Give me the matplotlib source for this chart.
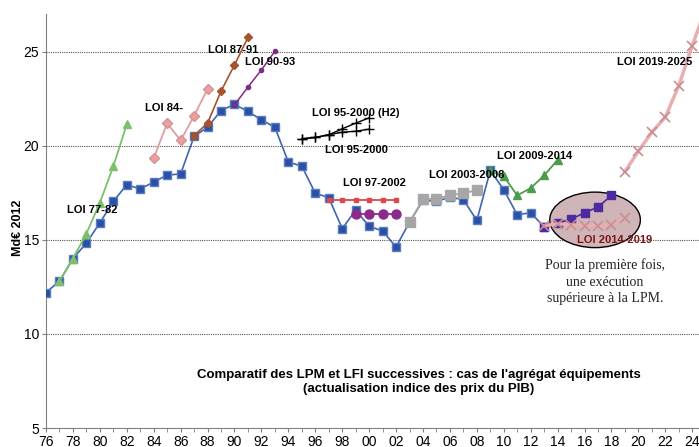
import matplotlib.pyplot as plt
from matplotlib.patches import Ellipse
from matplotlib.ticker import MultipleLocator, FuncFormatter

plt.rcParams['font.family'] = ['Liberation Sans', 'DejaVu Sans']

# actual execution (blue)
years_real = list(range(76, 114))
real = [12.2, 12.8, 14.0, 14.83, 15.9, 17.04, 17.93, 17.7, 18.07, 18.44,
        18.5, 20.5, 20.98, 21.87, 22.2, 21.82, 21.38, 20.98, 19.13, 18.92,
        17.48, 17.24, 15.6, 16.57, 15.72, 15.47, 14.62, 15.94, 17.1, 17.04,
        17.27, 17.13, 16.03, 18.69, 17.66, 16.33, 16.44, 15.68]

# successive laws
y_7782 = [77, 78, 79, 80, 81, 82]
v_7782 = [12.8, 14.0, 15.33, 16.97, 18.9, 21.15]
y_84 = [84, 85, 86, 87, 88]
v_84 = [19.34, 21.2, 20.28, 21.59, 23.02]
y_8791 = [87, 88, 89, 90, 91]
v_8791 = [20.54, 21.2, 22.9, 24.29, 25.76]
y_9093 = [90, 91, 92, 93]
v_9093 = [22.17, 23.12, 24.03, 25.02]
y_95 = [95, 96, 97, 98, 99, 100]
v_95h2 = [20.37, 20.44, 20.58, 20.9, 21.2, 21.48]
v_95 = [20.37, 20.44, 20.58, 20.72, 20.77, 20.88]
y_9702 = [97, 98, 99, 100, 101, 102]
v_9702 = [17.13, 17.13, 17.13, 17.13, 17.13, 17.13]
y_9902 = [99, 100, 101, 102]
v_9902 = [16.39, 16.39, 16.39, 16.39]
y_0308 = [103, 104, 105, 106, 107, 108]
v_0308 = [15.94, 17.15, 17.19, 17.36, 17.48, 17.63]
y_0914 = [109, 110, 111, 112, 113, 114]
v_0914 = [18.69, 18.37, 17.36, 17.75, 18.42, 19.25]
y_exec14 = [113, 114, 115, 116, 117, 118]
v_exec14 = [15.68, 15.89, 16.09, 16.44, 16.74, 17.36]
y_1419 = [113, 114, 115, 116, 117, 118, 119]
v_1419 = [15.75, 15.85, 15.8, 15.76, 15.76, 15.8, 16.18]
y_1925 = [119, 120, 121, 122, 123, 124, 125]
v_1925 = [18.63, 19.71, 20.72, 21.52, 23.2, 25.32, 27.3]

fig = plt.figure(figsize=(6.99, 4.47), dpi=100)
ax = fig.add_axes([46/699, 19/447, 1 - 46/699, 414/447])

ax.plot(years_real, real, color='#3f64b0', lw=1.2, marker='s', ms=6,
        mfc='#2a50a6', mec='#5a7cc0', zorder=3)
ax.plot(y_7782, v_7782, color='#7cc06c', lw=1.3, marker='^', ms=6, zorder=4)
ax.plot(y_84, v_84, color='#dd9e9e', lw=1.3, marker='D', ms=5, mfc='#e8a0a0', mec='#d89090', zorder=4)
ax.plot(y_8791, v_8791, color='#a4532c', lw=1.2, marker='D', ms=4.5, zorder=4)
ax.plot(y_9093, v_9093, color='#7e2a86', lw=1.1, marker='o', ms=3, zorder=4)
ax.plot(y_95, v_95h2, color='black', lw=1.0, marker='+', ms=7, zorder=4)
ax.plot(y_95, v_95, color='black', lw=1.0, marker='+', ms=7, zorder=4)
ax.plot(y_9702, v_9702, color='#e04848', lw=1.3, marker='s', ms=3, zorder=4)
ax.plot(y_9902, v_9902, color='#8c2a8c', lw=1.3, marker='o', ms=6.5, zorder=4)
ax.plot(y_0308, v_0308, color='#a6a6a6', lw=1.3, marker='s', ms=6.5, zorder=4)
ax.plot(y_0914, v_0914, color='#4d9c4d', lw=1.3, marker='^', ms=6, zorder=4)

# ellipse highlighting the 2014-2019 period
ax.add_patch(Ellipse((116.78, 16.06), 6.73, 2.95, facecolor='#cfb5b7',
                     edgecolor='black', lw=1.0, zorder=2))
ax.plot(y_exec14, v_exec14, color='#4b2aa2', lw=1.2, marker='s', ms=6, zorder=5)
ax.plot(y_1419, v_1419, color='#e8aeb0', lw=2.5, marker='x', ms=7,
        mec='#c88e92', mew=1.2, zorder=5)
ax.plot(y_1925, v_1925, color='#e8aeb0', lw=2.5, marker='x', ms=7,
        mec='#c88e92', mew=1.2, zorder=5)

lab = dict(fontsize=8, fontweight='bold', ha='left', va='center', zorder=6)
ax.text(77.56, 16.57, 'LOI 77-82', **lab)
ax.text(83.35, 21.98, 'LOI 84-', **lab)
ax.text(88.03, 25.1, 'LOI 87-91', **lab)
ax.text(90.77, 24.43, 'LOI 90-93', **lab)
ax.text(95.75, 21.75, 'LOI 95-2000 (H2)', **lab)
ax.text(96.71, 19.75, 'LOI 95-2000', **lab)
ax.text(98.05, 18.01, 'LOI 97-2002', **lab)
ax.text(104.46, 18.42, 'LOI 2003-2008', **lab)
ax.text(109.46, 19.45, 'LOI 2009-2014', **lab)
ax.text(115.44, 15.01, 'LOI 2014-2019', color='#7a1616', **lab)
ax.text(118.41, 24.43, 'LOI 2019-2025', **lab)

ax.text(117.5, 14.0, 'Pour la première fois,\nune exécution\nsupérieure à la LPM.',
        family='Liberation Serif', fontsize=10, ha='center', va='top',
        linespacing=1.35, color='#222222')

ax.text(103.7, 7.43, "Comparatif des LPM et LFI successives : cas de l'agrégat équipements\n"
        "(actualisation indice des prix du PIB)", fontsize=9.5, fontweight='bold',
        ha='center', va='center', linespacing=1.2)

fig.text(18/699, 1 - 228/447, 'Md€ 2012', rotation=90, fontsize=9,
         fontweight='bold', ha='center', va='center')

ax.set_xlim(76, 124.5)
ax.set_ylim(5, 27)
ax.set_yticks([5, 10, 15, 20, 25])
ax.xaxis.set_major_locator(MultipleLocator(2))
ax.xaxis.set_minor_locator(MultipleLocator(1))
ax.xaxis.set_major_formatter(FuncFormatter(lambda v, p: '%02d' % (int(round(v)) % 100)))
ax.tick_params(axis='both', labelsize=10, length=3, color='#808080', pad=2)
ax.tick_params(axis='x', which='minor', length=3, color='#808080')
for y in [10, 15, 20, 25]:
    ax.axhline(y, color='#555555', lw=0.8, ls=(0, (1, 1)), zorder=1)
for s in ['top', 'right']:
    ax.spines[s].set_visible(False)
for s in ['left', 'bottom']:
    ax.spines[s].set_color('#808080')

fig.savefig('out.png', dpi=100)
